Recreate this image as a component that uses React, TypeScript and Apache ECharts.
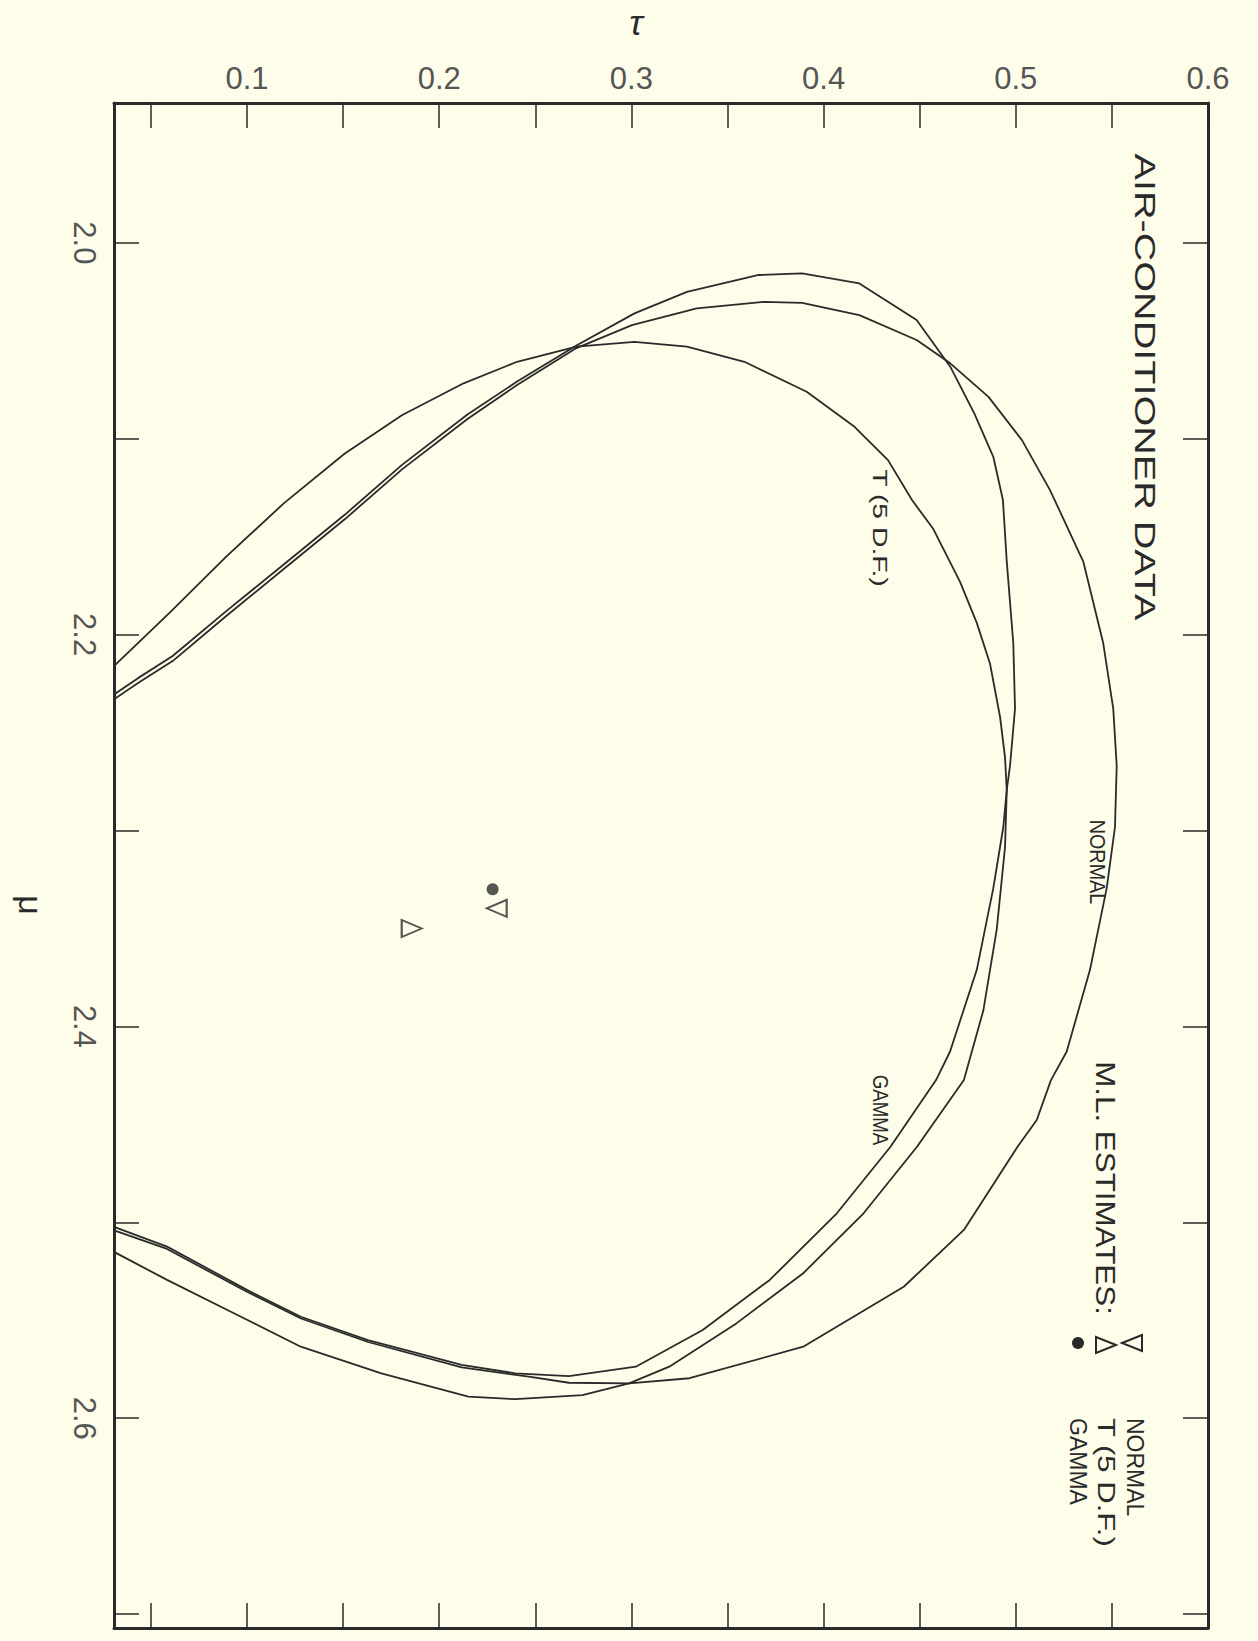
import React, { useEffect, useRef } from "react";
import * as echarts from "echarts";

// ---- axis ranges & ticks ----
const TAU_MIN = 0.0308;
const TAU_MAX = 0.6;
const MU_MIN = 1.9286;
const MU_MAX = 2.7071;
const TAU_TICKS = [0.05, 0.1, 0.15, 0.2, 0.25, 0.3, 0.35, 0.4, 0.45, 0.5, 0.55, 0.6];
const TAU_LABELS = [0.1, 0.2, 0.3, 0.4, 0.5, 0.6];
const MU_TICKS = [2.0, 2.1, 2.2, 2.3, 2.4, 2.5, 2.6, 2.7];
const MU_LABELS = [2.0, 2.2, 2.4, 2.6];

// ---- likelihood contours (tau, mu) ----
const NORMAL_TAU = [0.0277, 0.0433, 0.0613, 0.0892, 0.1191, 0.151, 0.1808, 0.2147, 0.2405, 0.2714, 0.3003, 0.334, 0.3688, 0.3888, 0.4186, 0.4484, 0.4659, 0.4858, 0.5032, 0.5178, 0.5351, 0.5455, 0.5507, 0.5525, 0.5516, 0.5473, 0.5386, 0.5265, 0.5183, 0.5109, 0.5009, 0.473, 0.4417, 0.3894, 0.3302, 0.2988, 0.2675, 0.2466, 0.2117, 0.163, 0.1281, 0.1002, 0.0584, 0.0277];
const NORMAL_MU = [2.2351, 2.2247, 2.2135, 2.1905, 2.1665, 2.141, 2.1155, 2.0899, 2.0726, 2.0537, 2.042, 2.0334, 2.0301, 2.0306, 2.0369, 2.0496, 2.0615, 2.0786, 2.1007, 2.1262, 2.1627, 2.2044, 2.2378, 2.2669, 2.2982, 2.3294, 2.3711, 2.4128, 2.4274, 2.4478, 2.4614, 2.5039, 2.5329, 2.5635, 2.5796, 2.5822, 2.5819, 2.5788, 2.5741, 2.5611, 2.5491, 2.5356, 2.5136, 2.503];

const GAMMA_TAU = [0.0277, 0.0433, 0.0613, 0.0892, 0.1191, 0.151, 0.1808, 0.2147, 0.2405, 0.2714, 0.3016, 0.3289, 0.3663, 0.3888, 0.4186, 0.4484, 0.4659, 0.4784, 0.4883, 0.4933, 0.4953, 0.4987, 0.4996, 0.497, 0.4953, 0.4935, 0.4883, 0.4797, 0.4658, 0.4585, 0.4348, 0.4069, 0.372, 0.3371, 0.3023, 0.2675, 0.2396, 0.2117, 0.1629, 0.128, 0.1002, 0.0584, 0.0277];
const GAMMA_MU = [2.2326, 2.2222, 2.2109, 2.188, 2.1642, 2.1387, 2.1132, 2.0876, 2.0708, 2.0524, 2.036, 2.025, 2.0164, 2.0156, 2.0207, 2.0394, 2.0632, 2.087, 2.1092, 2.1313, 2.1627, 2.2044, 2.2378, 2.2669, 2.2793, 2.2982, 2.3294, 2.3711, 2.4128, 2.4274, 2.4614, 2.4954, 2.5294, 2.555, 2.5737, 2.5785, 2.5771, 2.5728, 2.5601, 2.5482, 2.5346, 2.5124, 2.5012];

const T5_TAU = [0.0277, 0.0594, 0.0892, 0.1191, 0.1509, 0.1808, 0.2127, 0.2405, 0.2714, 0.3016, 0.3289, 0.3588, 0.3912, 0.4161, 0.4335, 0.446, 0.4571, 0.471, 0.4797, 0.4866, 0.4918, 0.4944, 0.4953, 0.4944, 0.4901, 0.4831, 0.473, 0.4486, 0.4208, 0.3894, 0.3546, 0.3197, 0.2988, 0.2745, 0.2396, 0.2152, 0.1699, 0.128, 0.0932, 0.0584, 0.0277];
const T5_MU = [2.2189, 2.1891, 2.1602, 2.133, 2.1075, 2.0879, 2.0717, 2.0607, 2.053, 2.0505, 2.053, 2.0607, 2.076, 2.0939, 2.1109, 2.1313, 2.1461, 2.1731, 2.194, 2.2149, 2.2419, 2.2628, 2.2793, 2.3084, 2.3503, 2.3919, 2.4274, 2.4614, 2.4954, 2.526, 2.5516, 2.5737, 2.5822, 2.5882, 2.5903, 2.589, 2.5771, 2.5635, 2.5464, 2.5294, 2.5135];

// ---- maximum-likelihood estimates (tau, mu) ----
const MLE_NORMAL = [0.2299, 2.3397];
const MLE_T5 = [0.1857, 2.35];
const MLE_GAMMA = [0.2278, 2.33];

const BG = "#fdfde9";
const INK = "#2a2a2a";
const FONT = '"Liberation Sans", Arial, sans-serif';

const pairs = (t: number[], m: number[]) => t.map((v, i) => [v, m[i]]);

function vtext(text: string, x: number, y: number, fontSize: number, scaleX = 1, align = "center") {
  return {
    type: "text",
    x,
    y,
    rotation: -Math.PI / 2,
    scaleX,
    silent: true,
    style: {
      text,
      fontSize,
      fontFamily: FONT,
      fill: INK,
      align,
      verticalAlign: "middle",
      textAlign: align,
      textVerticalAlign: "middle",
    },
  };
}

function makeXAxis(position: "top" | "bottom", labels: boolean) {
  return {
    type: "value",
    position,
    min: TAU_MIN,
    max: TAU_MAX,
    splitLine: { show: false },
    axisLine: { show: true, onZero: false, lineStyle: { color: INK, width: 3 } },
    axisTick: { show: true, inside: true, length: 25, customValues: TAU_TICKS, lineStyle: { color: INK, width: 1.5 } },
    axisLabel: {
      show: labels,
      customValues: TAU_LABELS,
      formatter: (v: number) => v.toFixed(1),
      margin: 9,
      fontSize: 31,
      fontFamily: FONT,
      color: "#555",
    },
  };
}

function makeYAxis(position: "left" | "right", labels: boolean) {
  return {
    type: "value",
    position,
    inverse: true,
    min: MU_MIN,
    max: MU_MAX,
    splitLine: { show: false },
    axisLine: { show: true, onZero: false, lineStyle: { color: INK, width: 3 } },
    axisTick: { show: true, inside: true, length: 25, customValues: MU_TICKS, lineStyle: { color: INK, width: 1.5 } },
    axisLabel: {
      show: labels,
      customValues: MU_LABELS,
      formatter: (v: number) => v.toFixed(1),
      rotate: -90,
      margin: 14,
      fontSize: 31,
      fontFamily: FONT,
      color: "#555",
    },
  };
}

const curve = (name: string, t: number[], m: number[]) => ({
  type: "line",
  name,
  data: pairs(t, m),
  showSymbol: false,
  symbol: "none",
  clip: true,
  silent: true,
  lineStyle: { color: INK, width: 1.8 },
});

const option = {
  animation: false,
  backgroundColor: BG,
  grid: { left: 114, right: 50, top: 103, bottom: 13, containLabel: false },
  xAxis: [makeXAxis("top", true), makeXAxis("bottom", false)],
  yAxis: [makeYAxis("left", true), makeYAxis("right", false)],
  series: [
    curve("NORMAL", NORMAL_TAU, NORMAL_MU),
    curve("GAMMA", GAMMA_TAU, GAMMA_MU),
    curve("T (5 D.F.)", T5_TAU, T5_MU),
    {
      type: "scatter",
      name: "NORMAL MLE",
      data: [MLE_NORMAL],
      symbol: "triangle",
      symbolSize: [17, 20],
      symbolRotate: 90,
      itemStyle: { color: "rgba(0,0,0,0)", borderColor: INK, borderWidth: 2 },
    },
    {
      type: "scatter",
      name: "T MLE",
      data: [MLE_T5],
      symbol: "triangle",
      symbolSize: [17, 20],
      symbolRotate: -90,
      itemStyle: { color: "rgba(0,0,0,0)", borderColor: INK, borderWidth: 2 },
    },
    {
      type: "scatter",
      name: "GAMMA MLE",
      data: [MLE_GAMMA],
      symbol: "circle",
      symbolSize: 12,
      itemStyle: { color: INK },
    },
  ],
  graphic: [
    // axis titles
    {
      type: "text",
      x: 636,
      y: 22,
      silent: true,
      style: { text: "τ", fontSize: 36, fontStyle: "italic", fontFamily: FONT, fill: INK, align: "center", verticalAlign: "middle", textAlign: "center", textVerticalAlign: "middle" },
    },
    vtext("μ", 31, 905, 34),
    // title and curve labels
    vtext("AIR-CONDITIONER DATA", 1146, 387, 30, 1.32),
    vtext("T (5 D.F.)", 881, 528, 21, 1.35),
    vtext("NORMAL", 1098, 862, 22, 0.9),
    vtext("GAMMA", 881, 1110, 22, 0.85),
    // legend
    vtext("M.L. ESTIMATES:", 1106, 1188, 28, 1.12),
    {
      type: "polygon",
      silent: true,
      shape: { points: [[1122, 1343], [1142, 1335], [1142, 1351]] },
      style: { fill: "none", stroke: INK, lineWidth: 2 },
    },
    {
      type: "polygon",
      silent: true,
      shape: { points: [[1116, 1345], [1096, 1337], [1096, 1353]] },
      style: { fill: "none", stroke: INK, lineWidth: 2 },
    },
    { type: "circle", silent: true, shape: { cx: 1078, cy: 1343, r: 6 }, style: { fill: INK } },
    vtext("NORMAL", 1135, 1418, 23, 1, "left"),
    vtext("T (5 D.F.)", 1106, 1418, 23, 1.35, "left"),
    vtext("GAMMA", 1078, 1418, 23, 1, "left"),
  ],
};

export default function App() {
  const ref = useRef<HTMLDivElement>(null);
  useEffect(() => {
    if (!ref.current) return;
    const chart = echarts.init(ref.current, null, { renderer: "svg" });
    chart.setOption(option as any);
    return () => chart.dispose();
  }, []);
  return (
    <div
      ref={ref}
      style={{ position: "absolute", left: 0, top: 0, width: 1258, height: 1641, background: BG }}
    />
  );
}
